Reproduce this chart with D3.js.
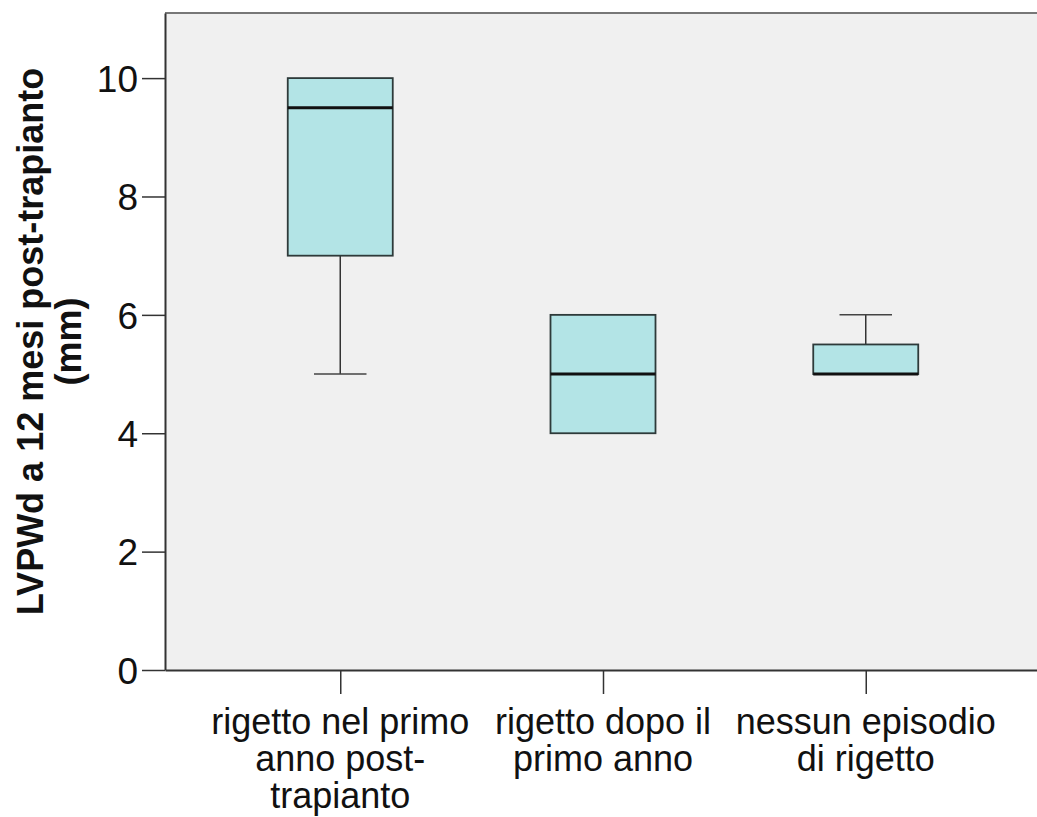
<!DOCTYPE html>
<html>
<head>
<meta charset="utf-8">
<script src="https://cdn.jsdelivr.net/npm/d3@7"></script>
<style>
  body { margin: 0; background: #fff; }
  text { font-family: "Liberation Sans", Arial, Helvetica, sans-serif; fill: #111; }
</style>
</head>
<body>
<div id="chart"></div>
<script>
// categories (split into label lines) and box statistics
const categories = ["rigetto nel primo anno post-trapianto", "rigetto dopo il primo anno", "nessun episodio di rigetto"];
const categoryLines = [["rigetto nel primo", "anno post-", "trapianto"], ["rigetto dopo il", "primo anno"], ["nessun episodio", "di rigetto"]];
const whiskerLow = [5, 4, 5];
const q1 = [7, 4, 5];
const median = [9.5, 5, 5];
const q3 = [10, 6, 5.5];
const whiskerHigh = [10, 6, 6];
const yTicks = [0, 2, 4, 6, 8, 10];
const yTitle = ["LVPWd a 12 mesi post-trapianto", "(mm)"];

const w = 1037, h = 817;
const padLeft = 165, padRight = 1037, padTop = 13, padBottom = 670;

const svg = d3.select("#chart").append("svg").attr("width", w).attr("height", h);

// plot background
svg.append("rect").attr("x", padLeft).attr("y", padTop)
  .attr("width", padRight - padLeft).attr("height", padBottom - padTop)
  .attr("fill", "#f0f0f0");

const y = d3.scaleLinear().domain([0, 11.1]).range([padBottom, padTop]);
const x = d3.scalePoint().domain(categories).range([padLeft, padRight + 4]).padding(0.667);
const boxW = 105;

// top border
svg.append("line").attr("x1", padLeft).attr("x2", padRight).attr("y1", padTop).attr("y2", padTop)
  .attr("stroke", "#777").attr("stroke-width", 2);

// y axis
const yAxis = d3.axisLeft(y).tickValues(yTicks).tickSize(23).tickPadding(4).tickSizeOuter(0);
const gy = svg.append("g").attr("transform", `translate(${padLeft},0)`).call(yAxis);
gy.select(".domain").attr("stroke", "#333").attr("stroke-width", 2);
gy.selectAll(".tick line").attr("stroke", "#333").attr("stroke-width", 1.5);
gy.selectAll(".tick text").style("font-size", "37px").attr("fill", "#111").attr("dy", "0.36em");

// x axis
const xAxis = d3.axisBottom(x).tickSize(24).tickSizeOuter(0).tickFormat("");
const gx = svg.append("g").attr("transform", `translate(0,${padBottom})`).call(xAxis);
gx.select(".domain").attr("stroke", "#333").attr("stroke-width", 2);
gx.selectAll(".tick line").attr("stroke", "#333").attr("stroke-width", 1.5);

// category labels
categories.forEach((c, i) => {
  const t = svg.append("text").attr("x", x(c)).attr("y", 734)
    .attr("text-anchor", "middle").style("font-size", "36px");
  categoryLines[i].forEach((line, j) => {
    t.append("tspan").attr("x", x(c)).attr("dy", j === 0 ? 0 : 37).text(line);
  });
});

// y title
const yt = svg.append("text")
  .attr("transform", `translate(43,${(padTop + padBottom) / 2}) rotate(-90)`)
  .attr("text-anchor", "middle").style("font-size", "36px").style("font-weight", "bold");
yTitle.forEach((line, j) => {
  yt.append("tspan").attr("x", 0).attr("dy", j === 0 ? 0 : 38).text(line);
});

// boxes
const boxes = svg.append("g");
categories.forEach((c, i) => {
  const cx = x(c);
  const g = boxes.append("g");
  if (whiskerHigh[i] > q3[i]) {
    g.append("line").attr("x1", cx).attr("x2", cx).attr("y1", y(q3[i])).attr("y2", y(whiskerHigh[i]))
      .attr("stroke", "#333").attr("stroke-width", 1.5);
    g.append("line").attr("x1", cx - boxW / 4).attr("x2", cx + boxW / 4)
      .attr("y1", y(whiskerHigh[i])).attr("y2", y(whiskerHigh[i]))
      .attr("stroke", "#444").attr("stroke-width", 1.5);
  }
  if (whiskerLow[i] < q1[i]) {
    g.append("line").attr("x1", cx).attr("x2", cx).attr("y1", y(q1[i])).attr("y2", y(whiskerLow[i]))
      .attr("stroke", "#333").attr("stroke-width", 1.5);
    g.append("line").attr("x1", cx - boxW / 4).attr("x2", cx + boxW / 4)
      .attr("y1", y(whiskerLow[i])).attr("y2", y(whiskerLow[i]))
      .attr("stroke", "#444").attr("stroke-width", 1.5);
  }
  g.append("rect").attr("x", cx - boxW / 2).attr("y", y(q3[i]))
    .attr("width", boxW).attr("height", y(q1[i]) - y(q3[i]))
    .attr("fill", "#b3e4e6").attr("stroke", "#2e3a3a").attr("stroke-width", 1.8);
  g.append("line").attr("x1", cx - boxW / 2).attr("x2", cx + boxW / 2)
    .attr("y1", y(median[i])).attr("y2", y(median[i]))
    .attr("stroke", "#111").attr("stroke-width", 3);
});
</script>
</body>
</html>
